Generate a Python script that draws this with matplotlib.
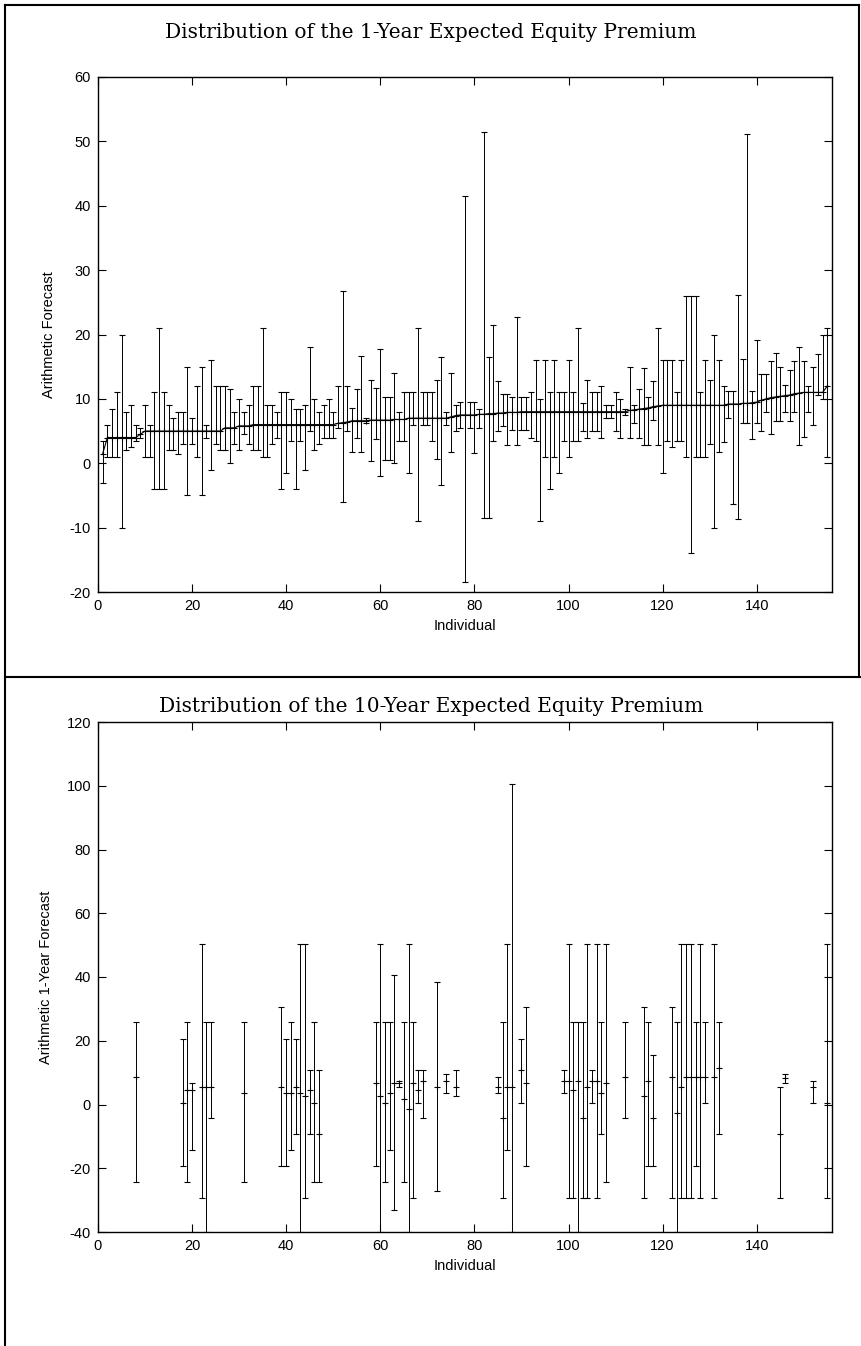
import matplotlib
matplotlib.use('Agg')
import matplotlib.pyplot as plt
import numpy as np
from matplotlib.lines import Line2D

plt.rcParams['axes.unicode_minus'] = False

# top panel: 1-year forecasts, individuals sorted by centre value
ind1 = list(range(1, 156))
centre1 = [1.5, 4, 4, 4, 4, 4, 4, 4, 4.5, 5,
           5, 5, 5, 5, 5, 5, 5, 5, 5, 5,
           5, 5, 5, 5, 5, 5, 5.5, 5.5, 5.5, 5.8,
           5.8, 5.8, 6, 6, 6, 6, 6, 6, 6, 6,
           6, 6, 6, 6, 6, 6, 6, 6, 6, 6,
           6.2, 6.3, 6.4, 6.6, 6.6, 6.6, 6.6, 6.7, 6.7, 6.7,
           6.7, 6.7, 6.8, 6.8, 6.8, 7, 7, 7, 7, 7,
           7, 7, 7, 7, 7.2, 7.4, 7.5, 7.5, 7.5, 7.5,
           7.6, 7.6, 7.7, 7.7, 7.8, 7.8, 7.9, 7.9, 7.9, 8,
           8, 8, 8, 8, 8, 8, 8, 8, 8, 8,
           8, 8, 8, 8, 8, 8, 8, 8, 8, 8,
           8, 8, 8.2, 8.3, 8.4, 8.5, 8.6, 8.8, 8.9, 9,
           9, 9, 9, 9, 9, 9, 9, 9, 9, 9,
           9, 9, 9, 9.2, 9.2, 9.2, 9.3, 9.3, 9.4, 9.5,
           9.8, 10, 10.2, 10.3, 10.4, 10.5, 10.6, 10.8, 10.9, 11,
           11, 11, 11, 11, 12]
low1 = [-3, 1, 1, 1, -10, 2, 2.5, 3.5, 4, 1,
        1, -4, -4, -4, 2, 2, 1.5, 3, -5, 3,
        1, -5, 4, -1, 3, 2, 2, 0, 3, 2,
        4.5, 3, 2, 2, 1, 1, 3, 4, -4, -1.5,
        3.5, -4, 3.5, -1, 5, 2, 3, 4, 4, 4,
        5.5, -6, 5, 1.7, 4, 1.7, 6.2, 0.3, 3.7, -2,
        0.5, 0.5, 0, 3.4, 3.4, -1.5, 6, -9, 6, 6,
        3.4, 0.7, -3.4, 6, 1.8, 5, 5.5, -18.5, 5.5, 1.6,
        5.5, -8.5, -8.5, 3.5, 5, 5.8, 2.8, 5.2, 2.8, 5.2,
        5.2, 4, 3.5, -9, 1, -4, 1, -1.5, 3.4, 1,
        3.4, 3.4, 5, 4, 5, 5, 4, 7, 7, 5,
        4, 7.5, 4, 6.2, 4, 2.8, 2.8, 6.7, 2.8, -1.5,
        3.5, 2.6, 3.5, 3.5, 1, -14, 1, 1, 1, 3,
        -10, 1.8, 3.3, 7, -6.3, -8.6, 6.2, 6.2, 3.8, 6.2,
        5, 8, 4.5, 6.5, 6.5, 8, 6.5, 8, 2.8, 4.1,
        8, 6, 10.6, 10, 1]
high1 = [3.5, 6, 8.4, 11, 20, 8, 9, 6, 5.5, 9,
         6, 11, 21, 11, 9, 7, 8, 8, 15, 7,
         12, 15, 6, 16, 12, 12, 12, 11.5, 8, 10,
         8, 9, 12, 12, 21, 9, 9, 8, 11, 11,
         10, 8.5, 8.5, 9, 18, 10, 8, 9, 10, 8,
         12, 26.8, 12, 8.6, 11.6, 16.6, 7.1, 12.9, 11.7, 17.8,
         10.3, 10.3, 14, 8, 11, 11, 11, 21, 11, 11,
         11, 13, 16.5, 8, 14, 9, 9.5, 41.5, 9.5, 9.5,
         8.5, 51.5, 16.5, 21.5, 12.7, 10.8, 10.8, 10.3, 22.7, 10.3,
         10.3, 11, 16, 10, 16, 11, 16, 11, 11, 16,
         11, 21, 9.4, 12.9, 11, 11, 12, 9, 9, 11,
         10, 8.4, 15, 9, 11.5, 14.8, 10.3, 12.7, 21, 16,
         16, 16, 11, 16, 26, 26, 26, 11, 16, 13,
         20, 16, 12, 11.2, 11.2, 26.2, 16.2, 51.2, 11.2, 19.2,
         13.9, 13.9, 15.9, 17.1, 15, 12.1, 14.5, 15.9, 18, 15.9,
         12, 15, 17, 20, 21]

# bottom panel: 10-year forecasts, only the individuals who answered
ind2 = [8, 18, 19, 20, 22, 23, 24, 31, 39, 40,
        41, 42, 43, 44, 45, 46, 47, 59, 60, 61,
        62, 63, 64, 65, 66, 67, 68, 69, 72, 74,
        76, 85, 86, 87, 88, 90, 91, 99, 100, 101,
        102, 103, 104, 105, 106, 107, 108, 112, 116, 117,
        118, 122, 123, 124, 125, 126, 127, 128, 129, 131,
        132, 145, 146, 152, 155]
centre2 = [8.6, 0.6, 4.6, 4.6, 5.6, 5.6, 5.6, 3.5, 5.6, 3.5,
           3.5, 5.6, 3.5, 2.7, 4.6, 0.6, -9.4, 6.7, 2.7, 0.6,
           3.5, 6.7, 6.7, 1.6, -1.4, 6.7, 4.6, 7.5, 5.6, 7.5,
           5.6, 5.6, -4.3, 5.6, 5.6, 10.7, 6.7, 7.5, 7.5, 4.6,
           7.5, -4.3, 5.6, 7.5, 7.5, 3.5, 6.7, 8.6, 2.7, 7.5,
           -4.3, 8.6, -2.6, 5.6, 8.6, 8.6, 8.6, 8.6, 8.6, 8.6,
           11.6, -9.4, 8.2, 5.6, 0.6]
low2 = [-24.3, -19.4, -24.3, -14.3, -29.3, -40, -4.3, -24.3, -19.4, -19.4,
        -14.3, -9.4, -40, -29.3, -9.4, -24.3, -24.3, -19.4, -40, -24.3,
        -14.3, -33.2, 5.6, -24.3, -40, -29.3, 0.6, -4.3, -27.2, 3.5,
        2.7, 3.5, -29.3, -14.3, -40, 0.6, -19.4, 3.5, -29.3, -29.3,
        -40, -29.3, -29.3, 0.6, -29.3, -9.4, -24.3, -4.3, -29.3, -19.4,
        -19.4, -29.3, -40, -29.3, -29.3, -29.3, -19.4, -29.3, 0.6, -29.3,
        -9.4, -29.3, 6.7, 0.6, -29.3]
high2 = [25.8, 20.6, 25.8, 6.7, 50.5, 25.8, 25.8, 25.8, 30.6, 20.6,
         25.8, 20.6, 50.5, 50.5, 10.7, 25.8, 10.7, 25.8, 50.5, 25.8,
         25.8, 40.6, 7.5, 25.8, 50.5, 25.8, 10.7, 10.7, 38.5, 9.6,
         10.7, 8.6, 25.8, 50.5, 100.6, 20.6, 30.6, 10.7, 50.5, 25.8,
         25.8, 25.8, 50.5, 10.7, 50.5, 25.8, 50.5, 25.8, 30.6, 25.8,
         15.6, 30.6, 25.8, 50.5, 50.5, 50.5, 25.8, 50.5, 25.8, 50.5,
         25.8, 5.6, 9.6, 7.5, 50.5]

W, H = 862, 1346
fig = plt.figure(figsize=(W / 100, H / 100), dpi=100)

tick_font = ['Liberation Sans', 'DejaVu Sans']
title_font = ['DejaVu Serif']


def box(px_left, px_top, px_right, px_bottom):
    return [px_left / W, 1 - px_bottom / H,
            (px_right - px_left) / W, (px_bottom - px_top) / H]


def style(ax):
    ax.tick_params(direction='in', top=True, right=True, length=6, width=0.8,
                   labelsize=10.5, pad=5)
    for lab in ax.get_xticklabels() + ax.get_yticklabels():
        lab.set_family(tick_font)
    for sp in ax.spines.values():
        sp.set_linewidth(1.0)


ax1 = fig.add_axes(box(98, 77, 832, 592))
c1 = np.array(centre1)
ax1.errorbar(ind1, c1, yerr=[c1 - np.array(low1), np.array(high1) - c1],
             fmt='-', color='black', lw=0.8, marker='+', ms=4, mew=0.8,
             elinewidth=0.7, capsize=2.5, capthick=0.7)
ax1.set_xlim(0, 156)
ax1.set_ylim(-20, 60)
ax1.set_xticks(range(0, 141, 20))
ax1.set_yticks(range(-20, 61, 10))
style(ax1)
ax1.set_xlabel('Individual', family=tick_font, fontsize=10.5, labelpad=4)
ax1.set_ylabel('Arithmetic Forecast', family=tick_font, fontsize=10.5, labelpad=10)
fig.text(0.5, 1 - 32 / H, 'Distribution of the 1-Year Expected Equity Premium',
         ha='center', va='center', family=title_font, fontsize=14.5)

ax2 = fig.add_axes(box(98, 722, 832, 1232))
c2 = np.array(centre2)
ax2.errorbar(ind2, c2, yerr=[c2 - np.array(low2), np.array(high2) - c2],
             fmt='+', color='black', ms=5, mew=0.8,
             elinewidth=0.7, capsize=2.5, capthick=0.7)
ax2.set_xlim(0, 156)
ax2.set_ylim(-40, 120)
ax2.set_xticks(range(0, 141, 20))
ax2.set_yticks(range(-40, 121, 20))
style(ax2)
ax2.set_xlabel('Individual', family=tick_font, fontsize=10.5, labelpad=4)
ax2.set_ylabel('Arithmetic 1-Year Forecast', family=tick_font, fontsize=10.5, labelpad=10)
fig.text(0.5, 1 - 706 / H, 'Distribution of the 10-Year Expected Equity Premium',
         ha='center', va='center', family=title_font, fontsize=14.5)

# frame lines around the two panels
def fline(x0, y0, x1, y1):
    fig.add_artist(Line2D([x0 / W, x1 / W], [1 - y0 / H, 1 - y1 / H],
                          transform=fig.transFigure, color='black', lw=1.5))

fline(5, 5, 5, H)
fline(5, 5, 859, 5)
fline(859, 5, 859, 677)
fline(5, 677, W, 677)

fig.savefig('out.png', dpi=100)
